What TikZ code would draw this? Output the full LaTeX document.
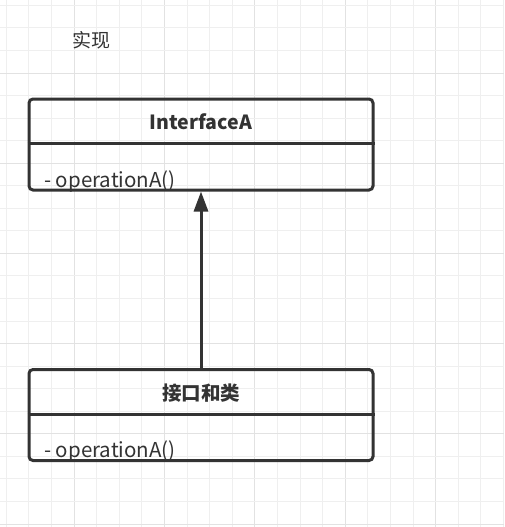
\documentclass[tikz,border=0pt]{standalone}
\usepackage{fontspec}
\setmainfont{Noto Sans CJK SC}
\usetikzlibrary{arrows.meta,positioning}

\definecolor{linegray}{HTML}{333333}
\definecolor{minorgrid}{HTML}{EFEFEF}
\definecolor{majorgrid}{HTML}{E2E2E2}

\tikzset{
    classbox/.style={draw=linegray, line width=3pt, rounded corners=4pt,
        minimum width=344pt, minimum height=91pt, inner sep=0pt},
    divider/.style={draw=linegray, line width=3pt},
    titletext/.style={font=\fontsize{19.5}{23}\selectfont\bfseries, text=linegray},
    membertext/.style={font=\fontsize{20.5}{24}\selectfont, text=linegray, anchor=base west, inner sep=0pt},
    realize/.style={draw=linegray, line width=3pt, -{Triangle[length=20pt, width=14pt]}}
}

\begin{document}
\begin{tikzpicture}[x=1pt, y=-1pt]
    \useasboundingbox (0,0) rectangle (504,527);
    \fill[white] (0,0) rectangle (504,527);

    % background grid
    \foreach \k in {0,...,22} {
        \pgfmathsetmacro{\gx}{6.2+22.6*\k}
        \pgfmathtruncatemacro{\ismajor}{mod(\k,4)==3}
        \ifnum\ismajor=1
            \draw[majorgrid, line width=1pt] (\gx,0) -- (\gx,527);
        \else
            \draw[minorgrid, line width=1pt] (\gx,0) -- (\gx,527);
        \fi
    }
    \foreach \k in {0,...,23} {
        \pgfmathsetmacro{\gy}{5.35+22.55*\k}
        \pgfmathtruncatemacro{\ismajor}{mod(\k,4)==3}
        \ifnum\ismajor=1
            \draw[majorgrid, line width=1pt] (0,\gy) -- (504,\gy);
        \else
            \draw[minorgrid, line width=1pt] (0,\gy) -- (504,\gy);
        \fi
    }

    % label
    \node[font=\fontsize{19}{22}\selectfont, text=linegray] (caption) at (91,40) {实现};

    % InterfaceA
    \node[classbox] (iface) at (201,144.5) {};
    \draw[divider] (iface.west |- 0,143.5) -- (iface.east |- 0,143.5);
    \node[titletext] (ifaceTitle) at (201,122) {InterfaceA};
    \node[membertext] (ifaceOp) at (44,187) {- operationA()};

    % implementing class
    \node[classbox] (impl) at (201,415) {};
    \draw[divider] (impl.west |- 0,414.5) -- (impl.east |- 0,414.5);
    \node[titletext] (implTitle) at (201,393) {接口和类};
    \node[membertext] (implOp) at (44,457) {- operationA()};

    % realization
    \draw[realize] (impl.north) -- (iface.south);
\end{tikzpicture}
\end{document}
